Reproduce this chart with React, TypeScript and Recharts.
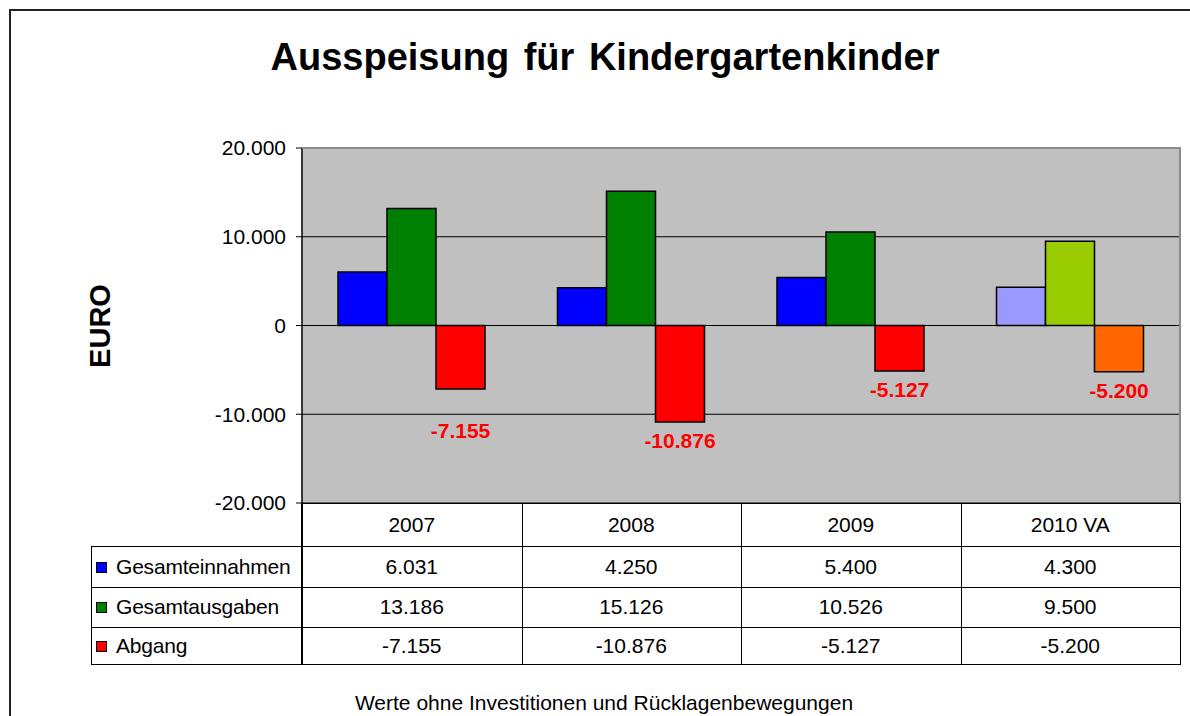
import { BarChart, Bar, XAxis, YAxis, CartesianGrid, Cell, LabelList } from "recharts";

const years = ["2007", "2008", "2009", "2010 VA"];
const einnahmen = [6031, 4250, 5400, 4300];
const ausgaben = [13186, 15126, 10526, 9500];
const abgang = [-7155, -10876, -5127, -5200];
const yTicks = [-20000, -10000, 0, 10000, 20000];

const seriesNames = ["Gesamteinnahmen", "Gesamtausgaben", "Abgang"];
const seriesColors = ["#0000FF", "#008000", "#FF0000"];
// last year (Voranschlag) is drawn in lighter colours
const vaColors = ["#9999FF", "#99CC00", "#FF6600"];

const data = years.map((year, i) => ({
  year,
  einnahmen: einnahmen[i],
  ausgaben: ausgaben[i],
  abgang: abgang[i],
}));
const tableRows = [einnahmen, ausgaben, abgang];

const FONT = '"Liberation Sans", Arial, sans-serif';
const PLOT_LEFT = 302;
const PLOT_TOP = 148;
const PLOT_RIGHT = 1180;
const PLOT_BOTTOM = 503;
const rowLines = [546, 587, 627, 664];
const TABLE_LEFT = 91;

const fmt = (v: number) => {
  const s = Math.abs(v)
    .toString()
    .replace(/\B(?=(\d{3})+(?!\d))/g, ".");
  return (v < 0 ? "-" : "") + s;
};

const AbgangLabel = (props: any) => {
  const vb = props.viewBox && props.viewBox.width !== undefined ? props.viewBox : props;
  const { x, y, width, height } = vb;
  const bottom = Math.max(y, y + height);
  // first label sits further down in the original
  const extra = props.index === 0 ? 23 : 0;
  return (
    <text
      x={x + width / 2}
      y={bottom + 19 + extra}
      dy="0.35em"
      textAnchor="middle"
      fill="#FF0000"
      fontWeight="bold"
      fontSize={21}
      fontFamily={FONT}
    >
      {fmt(props.value)}
    </text>
  );
};

const colX = (i: number) => PLOT_LEFT + (i * (PLOT_RIGHT - PLOT_LEFT)) / 4;

const line = (left: number, top: number, width: number, height: number, color = "#000") => (
  <div
    key={`${left}-${top}-${width}-${height}`}
    style={{ position: "absolute", left, top, width, height, background: color }}
  />
);

const App = () => {
  const colW = (PLOT_RIGHT - PLOT_LEFT) / 4;
  return (
    <div
      style={{
        position: "absolute",
        left: 0,
        top: 0,
        width: 1190,
        height: 716,
        overflow: "hidden",
        background: "#fff",
        fontFamily: FONT,
        color: "#000",
      }}
    >
      <div
        style={{
          position: "absolute",
          left: 9,
          top: 9,
          width: 1300,
          height: 900,
          border: "2px solid #222",
        }}
      />
      <div
        style={{
          position: "absolute",
          left: 0,
          top: 36,
          width: 1210,
          textAlign: "center",
          fontSize: 38,
          fontWeight: "bold",
          wordSpacing: 4,
        }}
      >
        Ausspeisung für Kindergartenkinder
      </div>
      <div
        style={{
          position: "absolute",
          left: 100,
          top: 326,
          transform: "translate(-50%, -50%) rotate(-90deg)",
          fontSize: 29,
          fontWeight: "bold",
        }}
      >
        EURO
      </div>

      <div style={{ position: "absolute", left: 0, top: 0 }}>
        <BarChart
          width={1190}
          height={716}
          data={data}
          margin={{ top: PLOT_TOP, right: 1190 - PLOT_RIGHT, bottom: 716 - PLOT_BOTTOM, left: PLOT_LEFT - 100 }}
          barCategoryGap="16.4%"
          barGap={0}
        >
          <CartesianGrid fill="#C0C0C0" vertical={false} stroke="#000" strokeWidth={1} />
          <XAxis dataKey="year" hide />
          <YAxis
            width={100}
            domain={[-20000, 20000]}
            ticks={yTicks}
            interval={0}
            tickFormatter={fmt}
            tick={{ fill: "#000", fontSize: 21, fontFamily: FONT }}
            axisLine={{ stroke: "#000", strokeWidth: 1.5 }}
            tickLine={{ stroke: "#000" }}
            tickSize={6}
            tickMargin={10}
          />
          <Bar dataKey="einnahmen" fill={seriesColors[0]} stroke="#000" strokeWidth={1.5} isAnimationActive={false}>
            {data.map((d, i) => (
              <Cell key={d.year} fill={i === years.length - 1 ? vaColors[0] : seriesColors[0]} />
            ))}
          </Bar>
          <Bar dataKey="ausgaben" fill={seriesColors[1]} stroke="#000" strokeWidth={1.5} isAnimationActive={false}>
            {data.map((d, i) => (
              <Cell key={d.year} fill={i === years.length - 1 ? vaColors[1] : seriesColors[1]} />
            ))}
          </Bar>
          <Bar dataKey="abgang" fill={seriesColors[2]} stroke="#000" strokeWidth={1.5} isAnimationActive={false}>
            {data.map((d, i) => (
              <Cell key={d.year} fill={i === years.length - 1 ? vaColors[2] : seriesColors[2]} />
            ))}
            <LabelList dataKey="abgang" content={AbgangLabel} />
          </Bar>
        </BarChart>
      </div>

      {/* grey frame of the plot area, top and right */}
      {line(PLOT_LEFT, PLOT_TOP - 1, PLOT_RIGHT - PLOT_LEFT + 1, 2, "#8a8a8a")}
      {line(PLOT_RIGHT - 1, PLOT_TOP - 1, 2, PLOT_BOTTOM - PLOT_TOP + 1, "#8a8a8a")}

      {/* data table */}
      {line(PLOT_LEFT, PLOT_BOTTOM, PLOT_RIGHT - PLOT_LEFT, 1)}
      {rowLines.map((y) => line(TABLE_LEFT, y, PLOT_RIGHT - TABLE_LEFT, 1))}
      {line(TABLE_LEFT, rowLines[0], 1, rowLines[3] - rowLines[0] + 1)}
      {[0, 1, 2, 3, 4].map((i) => line(Math.round(colX(i)) - (i === 0 ? 1 : 0), PLOT_BOTTOM, i === 0 ? 2 : 1, rowLines[3] - PLOT_BOTTOM + 1))}

      {years.map((y, i) => (
        <div
          key={y}
          style={{
            position: "absolute",
            left: colX(i),
            top: PLOT_BOTTOM,
            width: colW,
            height: rowLines[0] - PLOT_BOTTOM,
            lineHeight: `${rowLines[0] - PLOT_BOTTOM}px`,
            textAlign: "center",
            fontSize: 21,
          }}
        >
          {y}
        </div>
      ))}

      {tableRows.map((vals, r) => {
        const top = rowLines[r];
        const h = rowLines[r + 1] - rowLines[r];
        return (
          <div key={seriesNames[r]}>
            <div
              style={{
                position: "absolute",
                left: 96,
                top: top + h / 2 - 5,
                width: 11,
                height: 11,
                boxSizing: "border-box",
                border: "1px solid #000",
                background: seriesColors[r],
              }}
            />
            <div
              style={{
                position: "absolute",
                left: 116,
                top,
                height: h,
                lineHeight: `${h}px`,
                fontSize: 21,
                letterSpacing: -0.2,
              }}
            >
              {seriesNames[r]}
            </div>
            {vals.map((v, i) => (
              <div
                key={years[i]}
                style={{
                  position: "absolute",
                  left: colX(i),
                  top,
                  width: colW,
                  height: h,
                  lineHeight: `${h}px`,
                  textAlign: "center",
                  fontSize: 21,
                }}
              >
                {fmt(v)}
              </div>
            ))}
          </div>
        );
      })}

      <div
        style={{
          position: "absolute",
          left: 0,
          top: 691,
          width: 1208,
          textAlign: "center",
          fontSize: 21,
        }}
      >
        Werte ohne Investitionen und Rücklagenbewegungen
      </div>
    </div>
  );
};

export default App;
